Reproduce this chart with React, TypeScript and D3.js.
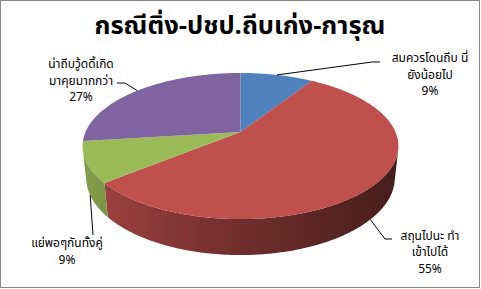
import React, { useMemo } from "react";
import * as d3 from "d3";

// Chart content
const title = "กรณีติ่ง-ปชป.ถีบเก่ง-การุณ";
const categories = [
  "สมควรโดนถีบ นี่ยังน้อยไป",
  "สถุนไปนะ ทำเข้าไปได้",
  "แย่พอๆกันทั้งคู่",
  "น่าถีบวู้ดดี้เกิดมาคุยมากกว่า",
];
const labelLines = [
  ["สมควรโดนถีบ  นี่", "ยังน้อยไป"],
  ["สถุนไปนะ  ทำ", "เข้าไปได้"],
  ["แย่พอๆกันทั้งคู่"],
  ["น่าถีบวู้ดดี้เกิด", "มาคุยมากกว่า"],
];
const values = [9, 55, 9, 27];
const colors = ["#4F81BD", "#C0504D", "#9BBB59", "#8064A2"];

// Label placement: anchor centre, first baseline, leader path (after the rim point)
const labelPos = [
  { x: 430, y: 62, rim: "top", leader: [[372, 62], [380, 62]] },
  { x: 430, y: 239.5, rim: "bottom", leader: [[385, 239], [392, 239]] },
  { x: 67, y: 247, rim: "bottom", leader: [[93, 235]] },
  { x: 81, y: 68, rim: "top", leader: [[125, 83], [117, 83]] },
];

const W = 481;
const H = 289;
const FONT = "Tahoma, 'Noto Sans Thai', 'Leelawadee UI', 'Noto Sans', sans-serif";

// 3D perspective pie parameters (unit radius)
const tilt = (27 * Math.PI) / 180;
const sinT = Math.sin(tilt);
const cosT = Math.cos(tilt);
const dist = 4.642;
const focal = 719.5;
const cx = 240.5;
const cy = 132;
const thick = 0.2306;

function project(phi: number, r: number, z: number): [number, number] {
  const x = r * Math.sin(phi);
  const y = r * Math.cos(phi);
  const up = y * sinT + z * cosT;
  const depth = dist + y * cosT - z * sinT;
  return [cx + (focal * x) / depth, cy - (focal * up) / depth];
}

function arcPoints(a0: number, a1: number, z: number): [number, number][] {
  const n = Math.max(2, Math.ceil(Math.abs(a1 - a0) / (Math.PI / 360)));
  return d3.range(n + 1).map((i) => project(a0 + ((a1 - a0) * i) / n, 1, z));
}

// Outer wall faces the viewer where cos(phi) < -1/(dist*cos(tilt))
const wallLimit = Math.acos(-1 / (dist * cosT));
const wallStart = wallLimit;
const wallEnd = 2 * Math.PI - wallLimit;

export default function App() {
  const arcs = useMemo(
    () => d3.pie<number>().sort(null).value((d) => d)(values),
    []
  );
  const line = d3.line().curve(d3.curveLinearClosed);
  const open = d3.line();
  const shade = (col: string, k: number) => d3.interpolateRgb(col, "#000")(k);

  return (
    <svg
      width={W}
      height={H}
      style={{ position: "absolute", left: 0, top: 0, background: "#fff" }}
      fontFamily={FONT}
    >
      <defs>
        {colors.map((col, i) => (
          <linearGradient
            key={i}
            id={`wall-${i}`}
            gradientUnits="userSpaceOnUse"
            x1={85}
            x2={396}
            y1={0}
            y2={0}
          >
            <stop offset="0" stopColor={shade(col, 0.16)} />
            <stop offset="0.5" stopColor={shade(col, 0.42)} />
            <stop offset="1" stopColor={shade(col, 0.63)} />
          </linearGradient>
        ))}
      </defs>
      <rect x={0.5} y={0.5} width={W - 2} height={H - 2} fill="#fff" stroke="#868686" strokeWidth={1} />

      <text x={240} y={34} textAnchor="middle" fontSize={25.5} fontWeight="bold" fill="#000">
        {title}
      </text>

      {/* outer walls */}
      {arcs.map((a, i) => {
        const s0 = Math.max(a.startAngle, wallStart);
        const s1 = Math.min(a.endAngle, wallEnd);
        if (s1 <= s0) return null;
        const pts = [...arcPoints(s0, s1, 0), ...arcPoints(s1, s0, -thick)];
        return <path key={`w${i}`} d={line(pts) ?? ""} fill={`url(#wall-${i})`} />;
      })}

      {/* top faces */}
      {arcs.map((a, i) => {
        const pts = [project(0, 0, 0), ...arcPoints(a.startAngle, a.endAngle, 0)];
        return <path key={`t${i}`} d={line(pts) ?? ""} fill={colors[i]} />;
      })}

      {/* data labels with leaders */}
      {arcs.map((a, i) => {
        const mid = (a.startAngle + a.endAngle) / 2;
        const p = labelPos[i];
        const start = project(mid, 1, p.rim === "top" ? 0 : -thick);
        const pts = [start, ...(p.leader as [number, number][])];
        const pct = `${Math.round((values[i] / d3.sum(values)) * 100)}%`;
        const lines = [...labelLines[i], pct];
        return (
          <g key={`l${i}`}>
            <path d={open(pts) ?? ""} fill="none" stroke="#000" strokeWidth={1} />
            <text textAnchor="middle" fontSize={12} fill="#000" aria-label={categories[i]}>
              {lines.map((t, j) => (
                <tspan key={j} x={p.x} y={p.y + j * 16.5}>
                  {t}
                </tspan>
              ))}
            </text>
          </g>
        );
      })}
    </svg>
  );
}
